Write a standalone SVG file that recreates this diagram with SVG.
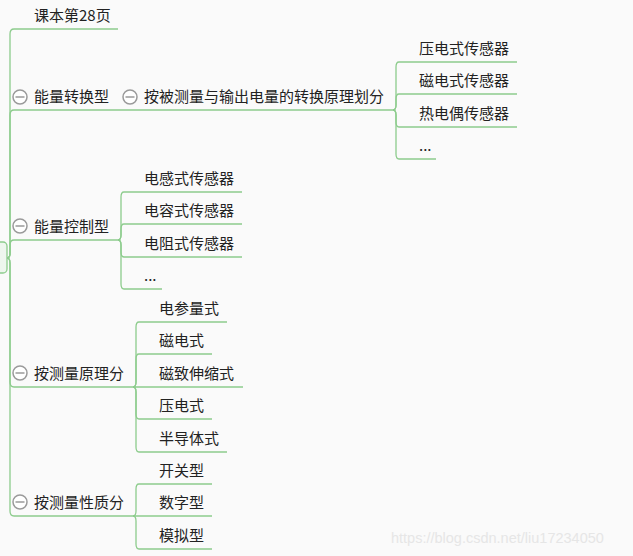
<svg xmlns="http://www.w3.org/2000/svg" width="633" height="556" viewBox="0 0 633 556">
<style>
.ln{fill:none;stroke:#8dcc8d;stroke-width:1.3}
.t{font-family:"Noto Sans CJK SC","Microsoft YaHei",sans-serif;font-size:15px;fill:#222}
.c{fill:#fff;stroke:#9a9a9a;stroke-width:1.5}
.m{stroke:#9a9a9a;stroke-width:1.5}
</style>
<defs>
<g id="tog"><circle class="c" cx="0" cy="0" r="7"/><line class="m" x1="-4.5" y1="0" x2="4.5" y2="0"/></g>
</defs>
<rect width="633" height="556" fill="#fafafa"/>
<g id="connectors">
<path class="ln" d="M7,258 Q10,258 10,253 L10,34 Q10,29 14,29 L118,29"/>
<path class="ln" d="M7,258 Q10,258 10,253 L10,115 Q10,110 14,110 L393,110"/>
<path class="ln" d="M7,258 Q10,258 10,253 L10,245 Q10,240 14,240 L118,240"/>
<path class="ln" d="M7,258 Q10,258 10,263 L10,382 Q10,387 14,387 L133,387"/>
<path class="ln" d="M7,258 Q10,258 10,263 L10,511 Q10,516 14,516 L133,516"/>
<path class="ln" d="M393,110 Q396,110 396,105 L396,67 Q396,62 399,62 L517,62"/>
<path class="ln" d="M393,110 Q396,110 396,105 L396,99 Q396,94 399,94 L517,94"/>
<path class="ln" d="M393,110 Q396,110 396,115 L396,122 Q396,127 399,127 L517,127"/>
<path class="ln" d="M393,110 Q396,110 396,115 L396,154 Q396,159 399,159 L436,159"/>
<path class="ln" d="M118,240 Q121,240 121,235 L121,197 Q121,192 124,192 L242,192"/>
<path class="ln" d="M118,240 Q121,240 121,235 L121,229 Q121,224 124,224 L242,224"/>
<path class="ln" d="M118,240 Q121,240 121,245 L121,252 Q121,257 124,257 L242,257"/>
<path class="ln" d="M118,240 Q121,240 121,245 L121,284 Q121,289 124,289 L162,289"/>
<path class="ln" d="M133,387 Q136,387 136,382 L136,327 Q136,322 139,322 L227,322"/>
<path class="ln" d="M133,387 Q136,387 136,382 L136,359 Q136,354 139,354 L212,354"/>
<path class="ln" d="M133,387 L243,387"/>
<path class="ln" d="M133,387 Q136,387 136,392 L136,414 Q136,419 139,419 L212,419"/>
<path class="ln" d="M133,387 Q136,387 136,392 L136,447 Q136,452 139,452 L227,452"/>
<path class="ln" d="M133,516 Q136,516 136,511 L136,489 Q136,484 139,484 L212,484"/>
<path class="ln" d="M133,516 L212,516"/>
<path class="ln" d="M133,516 Q136,516 136,521 L136,544 Q136,549 139,549 L212,549"/>
</g>
<g id="root"><rect x="-6" y="242" width="13" height="31" rx="4" fill="#eef6ee" stroke="#8dcc8d" stroke-width="1.3"/></g>
<g id="n1"><text class="t" x="34" y="21">课本第28页</text></g>
<g id="n2"><use href="#tog" x="20" y="97"/><text class="t" x="34" y="102">能量转换型</text></g>
<g id="n2a"><use href="#tog" x="130" y="97"/><text class="t" x="144" y="102">按被测量与输出电量的转换原理划分</text></g>
<g id="n2a1"><text class="t" x="419" y="54">压电式传感器</text></g>
<g id="n2a2"><text class="t" x="419" y="86">磁电式传感器</text></g>
<g id="n2a3"><text class="t" x="419" y="119">热电偶传感器</text></g>
<g id="n2a4"><text class="t" x="419" y="151">...</text></g>
<g id="n3"><use href="#tog" x="20" y="226"/><text class="t" x="34" y="232">能量控制型</text></g>
<g id="n3a"><text class="t" x="144" y="184">电感式传感器</text></g>
<g id="n3b"><text class="t" x="144" y="216">电容式传感器</text></g>
<g id="n3c"><text class="t" x="144" y="249">电阻式传感器</text></g>
<g id="n3d"><text class="t" x="144" y="281">...</text></g>
<g id="n4"><use href="#tog" x="20" y="373"/><text class="t" x="34" y="379">按测量原理分</text></g>
<g id="n4a"><text class="t" x="159" y="314">电参量式</text></g>
<g id="n4b"><text class="t" x="159" y="346">磁电式</text></g>
<g id="n4c"><text class="t" x="159" y="379">磁致伸缩式</text></g>
<g id="n4d"><text class="t" x="159" y="411">压电式</text></g>
<g id="n4e"><text class="t" x="159" y="444">半导体式</text></g>
<g id="n5"><use href="#tog" x="20" y="502"/><text class="t" x="34" y="508">按测量性质分</text></g>
<g id="n5a"><text class="t" x="159" y="476">开关型</text></g>
<g id="n5b"><text class="t" x="159" y="508">数字型</text></g>
<g id="n5c"><text class="t" x="159" y="541">模拟型</text></g>
<text x="391" y="543" font-family="Liberation Sans,Arial,sans-serif" font-size="14.5" fill="#e6e6e6">https://blog.csdn.net/liu17234050</text>
</svg>
